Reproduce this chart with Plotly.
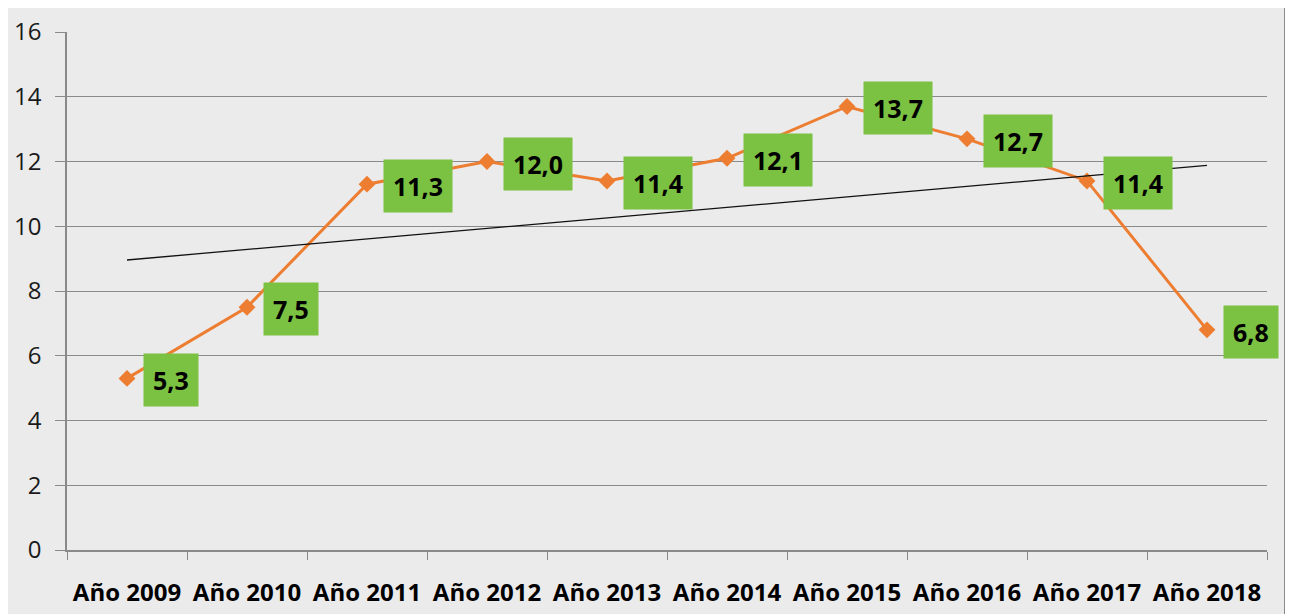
import numpy as np
import plotly.graph_objects as go

categories = ["Año 2009", "Año 2010", "Año 2011", "Año 2012", "Año 2013",
              "Año 2014", "Año 2015", "Año 2016", "Año 2017", "Año 2018"]
values = [5.3, 7.5, 11.3, 12.0, 11.4, 12.1, 13.7, 12.7, 11.4, 6.8]
labels = ["5,3", "7,5", "11,3", "12,0", "11,4", "12,1", "13,7", "12,7", "11,4", "6,8"]
y_ticks = [0, 2, 4, 6, 8, 10, 12, 14, 16]

# linear trendline (least squares, as in the spreadsheet)
idx = np.arange(1, len(values) + 1)
slope, intercept = np.polyfit(idx, values, 1)
trend = slope * idx + intercept

FONT = "Open Sans, Liberation Sans, sans-serif"

fig = go.Figure()
fig.add_trace(go.Scatter(
    x=categories, y=values, mode="lines+markers",
    line=dict(color="#ed7d31", width=3),
    marker=dict(symbol="diamond", size=13, color="#ed7d31"),
    showlegend=False, hoverinfo="skip"))
fig.add_trace(go.Scatter(
    x=[categories[0], categories[-1]], y=[trend[0], trend[-1]], mode="lines",
    line=dict(color="#111111", width=1.3),
    showlegend=False, hoverinfo="skip"))

for c, v, t in zip(categories, values, labels):
    fig.add_annotation(x=c, y=v, text="<b>%s</b>" % t, showarrow=False,
                       xanchor="left", yanchor="middle", xshift=16, yshift=-2,
                       bgcolor="#7cc242", borderpad=9,
                       font=dict(family=FONT, size=25, color="#000000"))

fig.add_shape(type="rect", xref="paper", yref="paper",
              x0=-60/1200, x1=1218/1200, y0=-70/518, y1=(518+27)/518,
              line=dict(color="#8a8a8a", width=2), fillcolor="rgba(0,0,0,0)", layer="below")

# the page body adds an 8 px offset, so the figure is 8 px narrower/shorter on each side
fig.update_layout(
    width=1285, height=606,
    margin=dict(l=59, r=26, t=24, b=64, autoexpand=False),
    paper_bgcolor="#ebebeb", plot_bgcolor="#ebebeb",
    xaxis=dict(type="category", tickson="boundaries", ticks="outside", ticklen=8,
               tickcolor="#8a8a8a", showgrid=False, showline=True, linecolor="#8a8a8a",
               linewidth=1.5, range=[-0.5, 9.5], automargin=False, tickangle=0,
               tickfont=dict(family=FONT, size=24, color="#000000", weight="bold"),
               ticklabelstandoff=20),
    yaxis=dict(range=[0, 16], tickvals=y_ticks, showgrid=True, gridcolor="#8a8a8a", gridwidth=1.2,
               showline=True, linecolor="#8a8a8a", linewidth=1.5, ticks="outside", ticklen=10,
               tickcolor="#8a8a8a", zeroline=False, automargin=False,
               tickfont=dict(family=FONT, size=24, color="#1a1a1a"),
               ticklabelstandoff=9),
)

fig.write_html("out.html")
